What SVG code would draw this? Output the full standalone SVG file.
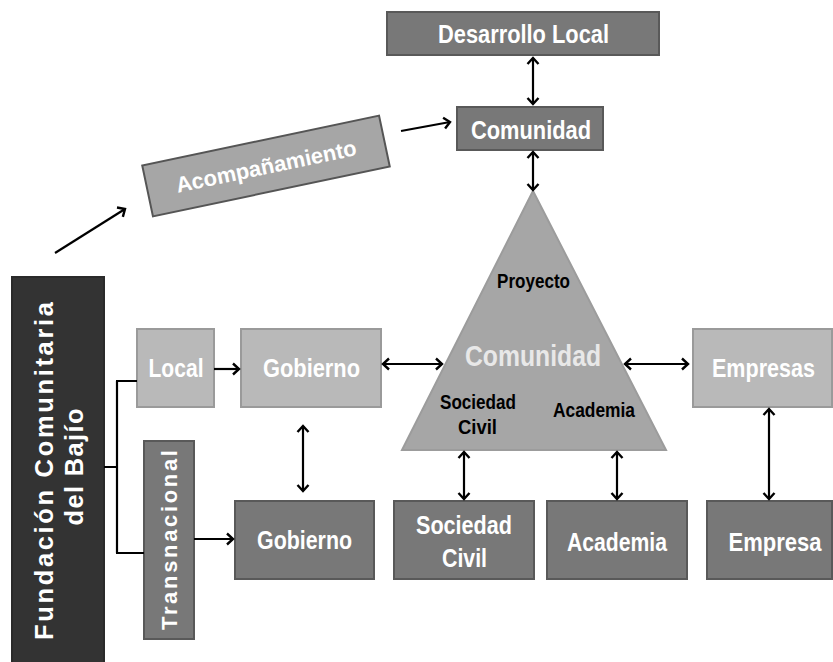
<svg xmlns="http://www.w3.org/2000/svg" width="833" height="662" viewBox="0 0 833 662">
<defs>
<marker id="ah" markerUnits="userSpaceOnUse" markerWidth="14" markerHeight="14" refX="9" refY="7" orient="auto-start-reverse">
<path d="M3,1.5 L9,7 L3,12.5" fill="none" stroke="#000" stroke-width="2.4"/>
</marker>
<style>
.t{font-family:"Liberation Sans Narrow","Liberation Sans",Arial,sans-serif;font-weight:bold;text-anchor:middle}
.w{fill:#fff}
.k{fill:#000}
.dark{fill:#787878;stroke:#595959;stroke-width:2}
.light{fill:#b9b9b9;stroke:#9a9a9a;stroke-width:2}
.c{stroke:#000;stroke-width:2.2;fill:none}
.wide{font-family:"Liberation Sans",Arial,sans-serif;font-weight:bold;text-anchor:middle;fill:#fff}
</style>
</defs>
<rect width="833" height="662" fill="#fff"/>

<g id="desarrollo">
<rect class="dark" x="387" y="12" width="272" height="43"/>
<text class="t w" x="523.5" y="43" font-size="25" textLength="171" lengthAdjust="spacingAndGlyphs">Desarrollo Local</text>
</g>
<g id="comunidad-top">
<rect class="dark" x="457" y="107" width="146" height="43"/>
<text class="t w" x="531" y="139" font-size="25" textLength="120" lengthAdjust="spacingAndGlyphs">Comunidad</text>
</g>
<g id="acompanamiento" transform="translate(266,166) rotate(-11.9)">
<rect x="-121" y="-26" width="242" height="52" fill="#a6a6a6" stroke="#555" stroke-width="2"/>
<text class="wide" x="0" y="8" font-size="22" textLength="184" lengthAdjust="spacingAndGlyphs">Acompañamiento</text>
</g>
<g id="fundacion">
<rect x="12" y="277" width="92" height="395" fill="#333" stroke="#2a2a2a" stroke-width="2"/>
<text class="wide" transform="translate(53,471) rotate(-90)" font-size="25.5" textLength="338" lengthAdjust="spacing">Fundación Comunitaria</text>
<text class="wide" transform="translate(83,467) rotate(-90)" font-size="25.5" textLength="117" lengthAdjust="spacing">del Bajío</text>
</g>
<g id="local">
<rect class="light" x="137" y="329" width="77" height="78"/>
<text class="t w" x="176" y="377" font-size="25" textLength="55" lengthAdjust="spacingAndGlyphs">Local</text>
</g>
<g id="gobierno-top">
<rect class="light" x="241" y="329" width="140" height="78"/>
<text class="t w" x="311.5" y="377" font-size="25" textLength="97" lengthAdjust="spacingAndGlyphs">Gobierno</text>
</g>
<g id="transnacional">
<rect class="dark" x="144" y="441" width="50" height="198"/>
<text class="wide" transform="translate(177,540) rotate(-90)" font-size="22" textLength="180" lengthAdjust="spacing">Transnacional</text>
</g>
<g id="gobierno-bottom">
<rect class="dark" x="235" y="501" width="139" height="78"/>
<text class="t w" x="304.5" y="549" font-size="25" textLength="95" lengthAdjust="spacingAndGlyphs">Gobierno</text>
</g>
<g id="triangulo">
<polygon points="533,191 402,450 666,450" fill="#a6a6a6" stroke="#9c9c9c" stroke-width="2"/>
<text class="t k" x="533.5" y="288" font-size="20" textLength="73" lengthAdjust="spacingAndGlyphs">Proyecto</text>
<text class="t" x="533" y="366" font-size="29" fill="#e8e8e8" textLength="136" lengthAdjust="spacingAndGlyphs">Comunidad</text>
<text class="t k" x="478" y="409" font-size="20" textLength="76" lengthAdjust="spacingAndGlyphs">Sociedad</text>
<text class="t k" x="477.5" y="434" font-size="20" textLength="39" lengthAdjust="spacingAndGlyphs">Civil</text>
<text class="t k" x="594" y="417" font-size="20" textLength="82" lengthAdjust="spacingAndGlyphs">Academia</text>
</g>
<g id="empresas">
<rect class="light" x="693" y="329" width="139" height="78"/>
<text class="t w" x="763.5" y="377" font-size="25" textLength="103" lengthAdjust="spacingAndGlyphs">Empresas</text>
</g>
<g id="sociedad-civil">
<rect class="dark" x="394" y="501" width="140" height="78"/>
<text class="t w" x="464" y="534" font-size="25" textLength="96" lengthAdjust="spacingAndGlyphs">Sociedad</text>
<text class="t w" x="464.5" y="567" font-size="25" textLength="45" lengthAdjust="spacingAndGlyphs">Civil</text>
</g>
<g id="academia">
<rect class="dark" x="547" y="501" width="140" height="78"/>
<text class="t w" x="617" y="551" font-size="25" textLength="100" lengthAdjust="spacingAndGlyphs">Academia</text>
</g>
<g id="empresa">
<rect class="dark" x="707" y="501" width="125" height="78"/>
<text class="t w" x="775" y="551" font-size="25" textLength="93" lengthAdjust="spacingAndGlyphs">Empresa</text>
</g>

<g id="connectors">
<line class="c" x1="533" y1="58" x2="533" y2="104" marker-start="url(#ah)" marker-end="url(#ah)"/>
<line class="c" x1="533" y1="152" x2="533" y2="190" marker-start="url(#ah)" marker-end="url(#ah)"/>
<line class="c" x1="55" y1="253" x2="125" y2="209" marker-end="url(#ah)"/>
<line class="c" x1="401" y1="131" x2="450" y2="122" marker-end="url(#ah)"/>
<line class="c" x1="214" y1="369" x2="239" y2="369" marker-end="url(#ah)"/>
<line class="c" x1="194" y1="539" x2="233" y2="539" marker-end="url(#ah)"/>
<path class="c" d="M104,467 H117 M117,381 V553 M116,381 H137 M116,553 H144"/>
<line class="c" x1="303" y1="426" x2="303" y2="491" marker-start="url(#ah)" marker-end="url(#ah)"/>
<line class="c" x1="383" y1="364" x2="442" y2="364" marker-start="url(#ah)" marker-end="url(#ah)"/>
<line class="c" x1="625" y1="364" x2="688" y2="364" marker-start="url(#ah)" marker-end="url(#ah)"/>
<line class="c" x1="769" y1="409" x2="769" y2="499" marker-start="url(#ah)" marker-end="url(#ah)"/>
<line class="c" x1="464" y1="452" x2="464" y2="499" marker-start="url(#ah)" marker-end="url(#ah)"/>
<line class="c" x1="617" y1="452" x2="617" y2="499" marker-start="url(#ah)" marker-end="url(#ah)"/>
</g>
</svg>
